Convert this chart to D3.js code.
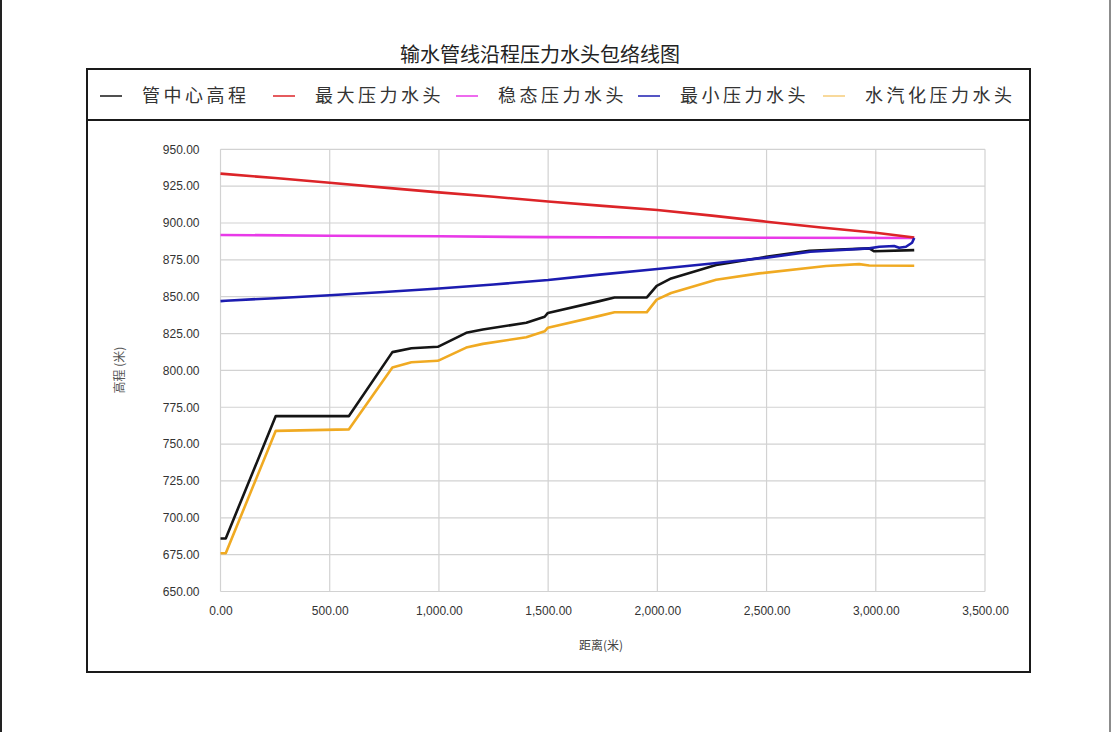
<!DOCTYPE html>
<html>
<head>
<meta charset="utf-8">
<script src="https://cdn.jsdelivr.net/npm/d3@7"></script>
<style>
  body { margin: 0; background: #fff; }
  svg { display: block; }
</style>
</head>
<body>
<div id="chart"></div>
<script>
// series names and colours
const seriesNames = ["管中心高程", "最大压力水头", "稳态压力水头", "最小压力水头", "水汽化压力水头"];
const seriesColors = ["#151515", "#dc2428", "#e83ae8", "#1c1cb0", "#f0aa22"];

// [distance, head]
const pipeCenter = [[0,686],[24,686],[253,769],[588,769],[787,812.4],[874,815],[995,816],[1125,825.5],[1201,827.8],[1400,832.3],[1484,836.4],[1499,839],[1735,847],[1804,849.5],[1952,849.5],[1997,857.4],[2063,862.4],[2269,871.5],[2498,877],[2696,881.2],[2970,882.8],[2993,880.8],[3176,881.6]];
const maxHead = [[0,933.5],[250,930.5],[500,927.3],[750,924],[1000,920.8],[1250,917.8],[1500,914.6],[1750,911.6],[2000,908.8],[2250,905],[2500,900.9],[2750,897],[3000,893.4],[3176,890.2]];
const steadyHead = [[0,891.9],[500,891.4],[1000,891],[1500,890.4],[2000,890.2],[2500,890],[3176,889.8]];
const minHead = [[0,847],[24,847.3],[250,849],[500,851],[750,853.2],[1000,855.6],[1250,858.3],[1500,861.3],[1735,865],[2000,868.8],[2250,872.5],[2500,876.5],[2700,880.5],[2970,882.8],[3016,883.9],[3084,884.4],[3107,883.2],[3138,883.9],[3166,886.6],[3176,889.8]];
const vaporHead = [[0,676],[24,676],[253,759],[588,760],[787,802],[874,805.5],[995,806.5],[1125,815.5],[1201,818],[1400,822.5],[1484,826.5],[1499,829],[1735,837],[1804,839.5],[1952,839.5],[1997,848],[2063,852.5],[2269,861.5],[2466,865.8],[2772,870.8],[2924,872.1],[2970,871.2],[3176,871]];

const xTicks = [0, 500, 1000, 1500, 2000, 2500, 3000, 3500];
const yTicks = [650, 675, 700, 725, 750, 775, 800, 825, 850, 875, 900, 925, 950];

const allSeries = [pipeCenter, maxHead, steadyHead, minHead, vaporHead];

const width = 1112, height = 732;
const svg = d3.select("#chart").append("svg")
    .attr("width", width)
    .attr("height", height);

// page edges
svg.append("line").attr("x1", 1).attr("x2", 1).attr("y1", 0).attr("y2", height)
    .attr("stroke", "#222").attr("stroke-width", 2);
svg.append("line").attr("x1", 1110).attr("x2", 1110).attr("y1", 0).attr("y2", height)
    .attr("stroke", "#666").attr("stroke-width", 1.5);

// title
svg.append("text")
    .attr("x", 540).attr("y", 62)
    .attr("text-anchor", "middle")
    .attr("font-family", "'Noto Sans CJK SC', sans-serif")
    .attr("font-size", 20)
    .attr("fill", "#222")
    .text("输水管线沿程压力水头包络线图");

// chart frame and legend box
svg.append("rect")
    .attr("x", 87).attr("y", 69).attr("width", 943).attr("height", 603)
    .attr("fill", "#fff").attr("stroke", "#1a1a1a").attr("stroke-width", 2);
svg.append("line").attr("x1", 87).attr("x2", 1030).attr("y1", 120).attr("y2", 120)
    .attr("stroke", "#1a1a1a").attr("stroke-width", 2);

// legend
const legendX = [100, 273, 456, 638, 823];
const legend = svg.append("g");
seriesNames.forEach((name, i) => {
    legend.append("line")
        .attr("x1", legendX[i]).attr("x2", legendX[i] + 22)
        .attr("y1", 96).attr("y2", 96)
        .attr("stroke", seriesColors[i])
        .attr("stroke-opacity", i === 4 ? 0.45 : 0.75)
        .attr("stroke-width", 2);
    legend.append("text")
        .attr("x", legendX[i] + 42).attr("y", 102)
        .attr("font-family", "'Noto Sans CJK SC', sans-serif")
        .attr("font-size", 18)
        .attr("letter-spacing", 3.5)
        .attr("fill", "#333")
        .text(name);
});

// scales
const x = d3.scaleLinear().domain([0, 3500]).range([220.5, 985]);
const y = d3.scaleLinear().domain([650, 950]).range([591.5, 149.3]);

const plot = svg.append("g");

// grid
plot.append("g")
    .selectAll("line")
    .data(yTicks)
    .join("line")
      .attr("x1", x(0)).attr("x2", x(3500))
      .attr("y1", d => y(d)).attr("y2", d => y(d))
      .attr("stroke", "#d2d2d2").attr("stroke-width", 1.2);
plot.append("g")
    .selectAll("line")
    .data(xTicks)
    .join("line")
      .attr("x1", d => x(d)).attr("x2", d => x(d))
      .attr("y1", y(650)).attr("y2", y(950))
      .attr("stroke", "#d2d2d2").attr("stroke-width", 1.2);

// axes (labels only, Excel style)
const fmt = d3.format(",.2f");
const xAxis = plot.append("g")
    .attr("transform", `translate(0,${y(650) + 12})`)
    .call(d3.axisBottom(x).tickValues(xTicks).tickFormat(fmt).tickSize(0));
const yAxis = plot.append("g")
    .attr("transform", `translate(${x(0) - 18},0)`)
    .call(d3.axisLeft(y).tickValues(yTicks).tickFormat(fmt).tickSize(0));
[xAxis, yAxis].forEach(a => {
    a.select(".domain").remove();
    a.selectAll("text")
        .attr("font-family", "'Liberation Sans', Arial, sans-serif")
        .attr("font-size", 12)
        .attr("fill", "#333");
});

// axis titles
svg.append("text")
    .attr("x", 601).attr("y", 650)
    .attr("text-anchor", "middle")
    .attr("font-family", "'Noto Sans CJK SC', sans-serif")
    .attr("font-size", 12)
    .attr("fill", "#444")
    .text("距离(米)");
svg.append("text")
    .attr("transform", "translate(124,370) rotate(-90)")
    .attr("text-anchor", "middle")
    .attr("font-family", "'Noto Sans CJK SC', sans-serif")
    .attr("font-size", 12)
    .attr("fill", "#555")
    .text("高程 (米)");

// series lines - draw order so black sits under blue near the end
const line = d3.line().x(d => x(d[0])).y(d => y(d[1]));
const drawOrder = [4, 0, 2, 1, 3];
plot.append("g")
    .selectAll("path")
    .data(drawOrder)
    .join("path")
      .attr("d", i => line(allSeries[i]))
      .attr("fill", "none")
      .attr("stroke", i => seriesColors[i])
      .attr("stroke-width", 2.6)
      .attr("stroke-linejoin", "round");
</script>
</body>
</html>
